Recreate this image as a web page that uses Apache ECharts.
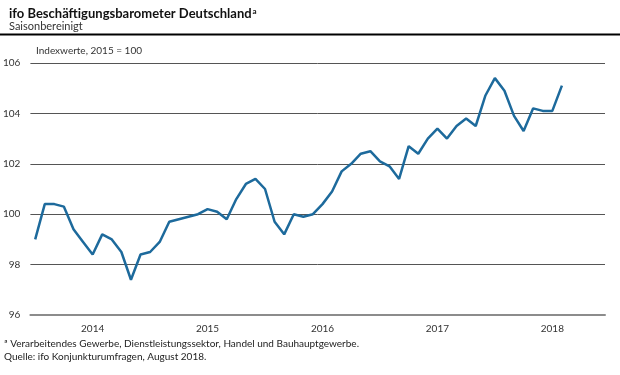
<!DOCTYPE html>
<html>
<head>
<meta charset="utf-8">
<script src="https://cdn.jsdelivr.net/npm/echarts@6/dist/echarts.min.js"></script>
<style>
  html, body { margin: 0; padding: 0; background: #fff; }
  #main { width: 620px; height: 375px; }
</style>
</head>
<body>
<div id="main"></div>
<script>
// Monate Jan 2014 - Dez 2018
const years = ['2014', '2015', '2016', '2017', '2018'];
const months = [];
years.forEach(y => {
  for (let m = 1; m <= 12; m++) months.push(y + '-' + (m < 10 ? '0' + m : m));
});

// Index 2015 = 100, Jan 2014 bis Aug 2018
const barometer = [
  99.0, 100.4, 100.4, 100.3, 99.4, 98.9, 98.4, 99.2, 99.0, 98.5, 97.4, 98.4,
  98.5, 98.9, 99.7, 99.8, 99.9, 100.0, 100.2, 100.1, 99.8, 100.6, 101.2, 101.4,
  101.0, 99.7, 99.2, 100.0, 99.9, 100.0, 100.4, 100.9, 101.7, 102.0, 102.4, 102.5,
  102.1, 101.9, 101.4, 102.7, 102.4, 103.0, 103.4, 103.0, 103.5, 103.8, 103.5, 104.7,
  105.4, 104.9, 103.9, 103.3, 104.2, 104.1, 104.1, 105.1
];

const yTicks = [96, 98, 100, 102, 104, 106];

const font = 'Lato, "Noto Sans", sans-serif';

const chart = echarts.init(document.getElementById('main'));

const option = {
  animation: false,
  textStyle: { fontFamily: font },
  title: {
    left: 4,
    top: 2,
    text: '{t|ifo Beschäftigungsbarometer Deutschland}{s|a}',
    subtext: 'Saisonbereinigt',
    itemGap: 0,
    textStyle: {
      rich: {
        t: { fontFamily: font, fontSize: 13, fontWeight: 'bold', color: '#111' },
        s: { fontFamily: font, fontSize: 8, fontWeight: 'bold', color: '#111', verticalAlign: 'top', padding: [0, 0, 6, 1] }
      }
    },
    subtextStyle: { fontFamily: font, fontSize: 11, color: '#333' }
  },
  grid: { left: 30, right: 15, top: 63, bottom: 60 },
  graphic: [
    { type: 'line', shape: { x1: 0, y1: 34.5, x2: 620, y2: 34.5 }, style: { stroke: '#000', lineWidth: 2 } },
    { type: 'text', left: 36, top: 46, style: { text: 'Indexwerte, 2015 = 100', font: '10px ' + font, fill: '#333' } },
    { type: 'text', left: 4, top: 339, style: { text: 'ª Verarbeitendes Gewerbe, Dienstleistungssektor, Handel und Bauhauptgewerbe.', font: '10px ' + font, fill: '#222' } },
    { type: 'text', left: 4, top: 352, style: { text: 'Quelle: ifo Konjunkturumfragen, August 2018.', font: '10px ' + font, fill: '#222' } }
  ],
  xAxis: {
    type: 'category',
    data: months,
    boundaryGap: true,
    axisLine: { lineStyle: { color: '#8c8c8c', width: 2 } },
    axisTick: {
      interval: (i) => i % 12 === 0,
      length: 4,
      lineStyle: { color: '#8c8c8c', width: 1 }
    },
    axisLabel: {
      interval: (i) => i % 12 === 6,
      formatter: (v) => v.slice(0, 4),
      color: '#333',
      fontSize: 10,
      margin: 9
    },
    splitLine: { show: false }
  },
  yAxis: {
    type: 'value',
    min: yTicks[0],
    max: yTicks[yTicks.length - 1],
    interval: 2,
    axisLine: { show: false },
    axisTick: { show: false },
    axisLabel: { color: '#333', fontSize: 10, margin: 10 },
    splitLine: { lineStyle: { color: '#555', width: 1 } }
  },
  series: [{
    type: 'line',
    data: barometer,
    symbol: 'none',
    lineStyle: { color: '#1d6a9c', width: 2.5 },
    z: 3
  }]
};

chart.setOption(option);
</script>
</body>
</html>
